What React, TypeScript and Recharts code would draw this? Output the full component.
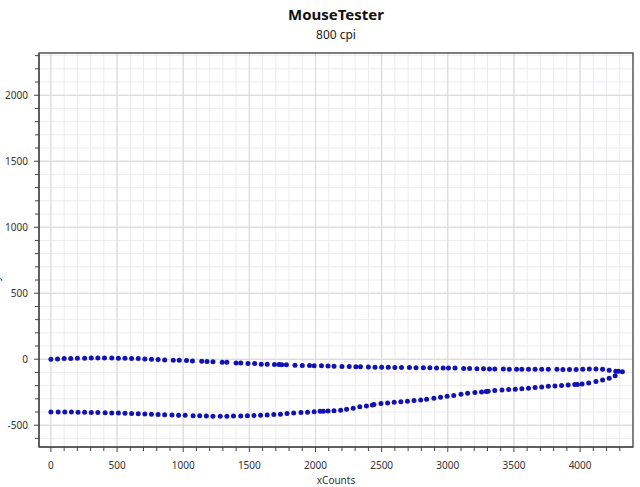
import { ScatterChart, Scatter, XAxis, YAxis, CartesianGrid, ReferenceArea } from 'recharts'

// mouse path, going out (upper) and coming back (lower), in counts
const upperPass: [number, number][] = [
  [0, 0], [50, 2], [100, 5], [150, 6], [200, 8], [255, 8], [305, 10], [355, 10], [405, 10], [460, 10],
  [510, 8], [560, 8], [610, 5], [660, 5], [710, 2], [760, 0], [810, -3], [860, -5], [925, -8], [970, -8],
  [1025, -10], [1070, -13], [1140, -15], [1180, -18], [1225, -20], [1295, -23], [1330, -23], [1400, -28],
  [1435, -28], [1490, -33], [1540, -33], [1590, -38], [1635, -38], [1690, -40], [1725, -40], [1745, -41],
  [1780, -42], [1845, -45], [1900, -48], [1955, -48], [1990, -50], [2045, -50], [2095, -52], [2140, -53],
  [2200, -55], [2255, -55], [2305, -57], [2340, -57], [2400, -58], [2450, -60], [2500, -60], [2550, -61],
  [2600, -62], [2650, -62], [2710, -63], [2760, -64], [2815, -64], [2865, -65], [2915, -66], [2965, -66],
  [3005, -67], [3055, -67], [3120, -70], [3165, -71], [3220, -73], [3270, -73], [3315, -74], [3355, -74],
  [3420, -75], [3465, -76], [3520, -76], [3560, -76], [3610, -76], [3660, -76], [3710, -76], [3760, -76],
  [3825, -76], [3870, -77], [3920, -77], [3970, -77], [4020, -76], [4070, -74], [4120, -74], [4170, -76],
  [4220, -83], [4270, -91], [4290, -91], [4320, -95],
]

const lowerPass: [number, number][] = [
  [0, -399], [55, -399], [105, -400], [155, -400], [205, -401], [255, -401], [305, -403], [355, -404],
  [410, -405], [460, -407], [510, -408], [560, -410], [610, -412], [660, -413], [710, -415], [760, -417],
  [810, -419], [860, -421], [915, -422], [965, -424], [1015, -425], [1075, -428], [1125, -429], [1175, -431],
  [1225, -432], [1280, -432], [1330, -432], [1380, -431], [1435, -430], [1485, -429], [1535, -427],
  [1585, -425], [1635, -422], [1685, -419], [1735, -417], [1785, -412], [1835, -407], [1890, -404],
  [1940, -401], [1990, -397], [2035, -394], [2060, -394], [2095, -393], [2140, -391], [2190, -386],
  [2235, -379], [2285, -371], [2335, -361], [2385, -354], [2430, -346], [2442, -343], [2495, -336],
  [2545, -331], [2595, -326], [2645, -322], [2695, -318], [2745, -313], [2795, -308], [2840, -303],
  [2895, -295], [2945, -288], [2995, -280], [3045, -275], [3100, -266], [3150, -258], [3205, -253],
  [3255, -248], [3290, -245], [3305, -242], [3355, -237], [3410, -234], [3460, -230], [3510, -227],
  [3560, -224], [3610, -220], [3660, -214], [3710, -210], [3760, -205], [3810, -202], [3860, -199],
  [3910, -195], [3960, -192], [3980, -191], [4015, -187], [4065, -180], [4120, -169], [4170, -157],
  [4220, -144], [4265, -126],
]

const xMajor = [0, 500, 1000, 1500, 2000, 2500, 3000, 3500, 4000]
const yMajor = [-500, 0, 500, 1000, 1500, 2000]
const xMinor = Array.from({ length: 44 }, (_, i) => i * 100)
const yMinor = Array.from({ length: 30 }, (_, i) => -600 + i * 100)

const X_DOMAIN: [number, number] = [-90, 4400]
const Y_DOMAIN: [number, number] = [-665, 2320]

const FONT = '"Noto Sans", "Open Sans", sans-serif'
const DOT = '#1212b4'

const upper = upperPass.map(([x, y]) => ({ x, y }))
const lower = lowerPass.map(([x, y]) => ({ x, y }))

function XTick(props: any) {
  const { x, y, payload } = props
  const major = xMajor.includes(payload.value)
  return (
    <g>
      <line x1={x} x2={x} y1={y} y2={y + (major ? 5 : 4)} stroke="#444" />
      {major && (
        <text x={x} y={y + 22} textAnchor="middle" fontSize={10} fill="#333" fontFamily={FONT}>
          {payload.value}
        </text>
      )}
    </g>
  )
}

function YTick(props: any) {
  const { x, y, payload } = props
  const major = yMajor.includes(payload.value)
  return (
    <g>
      <line x1={x} x2={x - (major ? 5 : 4)} y1={y} y2={y} stroke="#444" />
      {major && (
        <text x={x - 11} y={y + 3.5} textAnchor="end" fontSize={10} fill="#333" fontFamily={FONT}>
          {payload.value}
        </text>
      )}
    </g>
  )
}

const dot = (p: any) => <circle cx={p.cx} cy={p.cy} r={2.5} fill={DOT} />

export default function App() {
  return (
    <div style={{ position: 'absolute', left: 0, top: 0, width: 640, height: 487, background: '#fff', fontFamily: FONT }}>
      <div style={{ position: 'absolute', left: 39, width: 594, top: 4, textAlign: 'center', fontSize: 15, fontWeight: 700, color: '#111' }}>
        MouseTester
      </div>
      <div style={{ position: 'absolute', left: 39, width: 594, top: 26, textAlign: 'center', fontSize: 12, color: '#222' }}>
        800 cpi
      </div>
      <ScatterChart width={640} height={487} margin={{ top: 53, right: 7, bottom: 0, left: 0 }}>
        <CartesianGrid verticalValues={xMinor} horizontalValues={yMinor} stroke="#ececf0" />
        <CartesianGrid verticalValues={xMajor} horizontalValues={yMajor} stroke="#d6d6dc" />
        <XAxis
          type="number"
          dataKey="x"
          domain={X_DOMAIN}
          allowDataOverflow
          ticks={xMinor}
          interval={0}
          height={40}
          tickSize={0}
          tickMargin={0}
          tickLine={false}
          tick={XTick}
          axisLine={{ stroke: '#555', strokeWidth: 1.5 }}
          label={{ value: 'xCounts', position: 'insideBottom', offset: 3, fontSize: 10, fill: '#333', fontFamily: FONT }}
        />
        <YAxis
          type="number"
          dataKey="y"
          domain={Y_DOMAIN}
          allowDataOverflow
          ticks={yMinor}
          interval={0}
          width={39}
          tickSize={0}
          tickMargin={0}
          tickLine={false}
          tick={YTick}
          axisLine={{ stroke: '#555', strokeWidth: 1.5 }}
          label={(lp: any) => {
            const vb = lp.viewBox
            const cy = vb.y + vb.height / 2 + 12
            return (
              <text x={-1} y={cy} transform={`rotate(-90, -1, ${cy})`} textAnchor="middle" fontSize={10} fill="#333" fontFamily={FONT}>
                yCounts
              </text>
            )
          }}
        />
        <ReferenceArea x1={X_DOMAIN[0]} x2={X_DOMAIN[1]} y1={Y_DOMAIN[0]} y2={Y_DOMAIN[1]} fill="none" stroke="#555" strokeWidth={1.5} />
        <Scatter data={upper} shape={dot} isAnimationActive={false} />
        <Scatter data={lower} shape={dot} isAnimationActive={false} />
      </ScatterChart>
    </div>
  )
}
